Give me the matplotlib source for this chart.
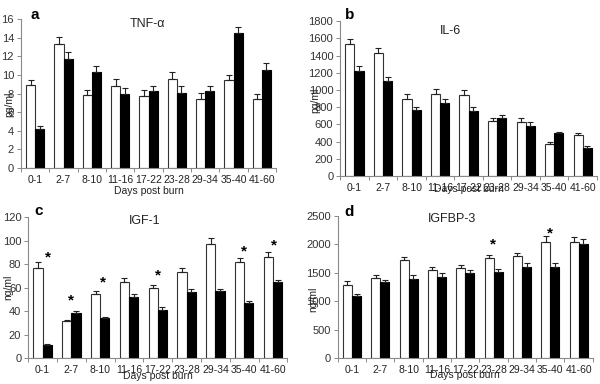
import matplotlib.pyplot as plt
import numpy as np

plt.rcParams['font.family'] = ['Liberation Sans', 'DejaVu Sans']

groups = ['0-1', '2-7', '8-10', '11-16', '17-22', '23-28', '29-34', '35-40', '41-60']

tnf_ctrl = [8.9, 13.35, 7.8, 8.85, 7.75, 9.6, 7.45, 9.45, 7.45]
tnf_ctrl_err = [0.55, 0.7, 0.6, 0.7, 0.6, 0.7, 0.6, 0.5, 0.45]
tnf_burn = [4.15, 11.75, 10.35, 7.95, 8.3, 8.1, 8.3, 14.45, 10.5]
tnf_burn_err = [0.35, 0.7, 0.65, 0.65, 0.55, 0.7, 0.5, 0.7, 0.75]

il6_ctrl = [1530, 1425, 900, 955, 940, 645, 630, 372, 476]
il6_ctrl_err = [58, 69, 58, 62, 65, 35, 39, 19, 23]
il6_burn = [1220, 1110, 765, 845, 755, 675, 577, 496, 330]
il6_burn_err = [55, 46, 39, 46, 42, 34, 46, 19, 23]

igf_ctrl = [77, 31.3, 54.3, 64.5, 59.7, 73.6, 96.7, 81.9, 86.4]
igf_ctrl_err = [4.8, 1.4, 2.6, 3.5, 2.6, 2.9, 5.3, 3.1, 4.0]
igf_burn = [11.4, 38.1, 34.4, 52, 41.2, 56.3, 56.9, 46.6, 64.3]
igf_burn_err = [0.5, 2.3, 0.9, 2.6, 2.0, 2.6, 2.0, 2.0, 2.5]

bp3_ctrl = [1276, 1405, 1721, 1540, 1587, 1762, 1797, 2049, 2043]
bp3_ctrl_err = [71, 59, 65, 53, 52, 53, 53, 100, 88]
bp3_burn = [1083, 1329, 1393, 1423, 1493, 1516, 1610, 1610, 2008]
bp3_burn_err = [47, 47, 71, 64, 53, 53, 59, 70, 88]

# significance stars: (group index, x shift, y)
igf_stars = [(0, 0.17, 86), (1, 0.0, 49), (2, 0.1, 64.5), (4, 0.0, 70), (7, -0.02, 90.5), (8, 0.05, 95.5)]
bp3_stars = [(5, -0.03, 1990), (7, -0.02, 2195)]

panels = [
    dict(rect=[0.035, 0.5625, 0.425, 0.388], letter='a', title='TNF-α', ylabel='pg/ml',
         ctrl=tnf_ctrl, ce=tnf_ctrl_err, burn=tnf_burn, be=tnf_burn_err,
         ylim=16, step=2, stars=[], title_xy=(0.494, 0.966), letter_xy=(0.055, 1.027),
         ylab_x=-0.045, ylab_y=0.43, xlab_y=-0.155),
    dict(rect=[0.567, 0.5417, 0.428, 0.403], letter='b', title='IL-6', ylabel='pg/ml',
         ctrl=il6_ctrl, ce=il6_ctrl_err, burn=il6_burn, be=il6_burn_err,
         ylim=1800, step=200, stars=[], title_xy=(0.43, 0.935), letter_xy=(0.035, 1.04),
         ylab_x=-0.097, ylab_y=0.49, xlab_y=-0.085),
    dict(rect=[0.047, 0.0677, 0.432, 0.367], letter='c', title='IGF-1', ylabel='ng/ml',
         ctrl=igf_ctrl, ce=igf_ctrl_err, burn=igf_burn, be=igf_burn_err,
         ylim=120, step=20, stars=igf_stars, title_xy=(0.45, 0.975), letter_xy=(0.039, 1.04),
         ylab_x=-0.077, ylab_y=0.5, xlab_y=-0.125),
    dict(rect=[0.563, 0.0677, 0.425, 0.37], letter='d', title='IGFBP-3', ylabel='ng/ml',
         ctrl=bp3_ctrl, ce=bp3_ctrl_err, burn=bp3_burn, be=bp3_burn_err,
         ylim=2500, step=500, stars=bp3_stars, title_xy=(0.447, 0.975), letter_xy=(0.043, 1.03),
         ylab_x=-0.098, ylab_y=0.41, xlab_y=-0.12),
]

fig = plt.figure(figsize=(6, 3.84), dpi=100)
x = np.arange(len(groups))
w = 0.32
spine_c = '#8a8a8a'

for p in panels:
    ax = fig.add_axes(p['rect'])
    ctrl = np.array(p['ctrl'])
    burn = np.array(p['burn'])
    ax.bar(x - w/2, ctrl, w, color='white', edgecolor='#333333', linewidth=0.8, zorder=2)
    ax.bar(x + w/2, burn, w, color='black', edgecolor='black', linewidth=0.8, zorder=2)
    ax.errorbar(x - w/2, ctrl, yerr=[np.zeros(len(x)), p['ce']], fmt='none',
                ecolor='#222222', elinewidth=0.8, capsize=2.3, capthick=0.8, zorder=3)
    ax.errorbar(x + w/2, burn, yerr=[np.zeros(len(x)), p['be']], fmt='none',
                ecolor='#222222', elinewidth=0.8, capsize=2.3, capthick=0.8, zorder=3)
    for gi, dx, yv in p['stars']:
        ax.text(gi + dx, yv, '*', ha='center', va='center', fontsize=11, fontweight='bold')

    ax.set_xlim(-0.5, len(groups) - 0.5)
    ax.set_ylim(0, p['ylim'])
    ax.set_yticks(np.arange(0, p['ylim'] + 1, p['step']))
    ax.set_xticks(x)
    ax.set_xticklabels(groups)
    ax.set_xticks(np.arange(-0.5, len(groups)), minor=True)
    ax.tick_params(axis='x', which='major', length=0, pad=5, labelsize=7.5, colors='#222222')
    ax.tick_params(axis='x', which='minor', length=3, width=0.7, color=spine_c, direction='out')
    ax.tick_params(axis='y', length=3, width=0.7, color=spine_c, labelsize=8,
                   labelcolor='#333333', pad=2)
    for s in ['top', 'right']:
        ax.spines[s].set_visible(False)
    for s in ['left', 'bottom']:
        ax.spines[s].set_color(spine_c)
        ax.spines[s].set_linewidth(0.8)

    ax.set_ylabel(p['ylabel'], fontsize=7.5, color='#222222')
    ax.yaxis.set_label_coords(p['ylab_x'], p['ylab_y'])
    ax.set_xlabel('Days post burn', fontsize=7.5, color='#222222')
    ax.xaxis.set_label_coords(0.5, p['xlab_y'])
    ax.xaxis.label.set_va('center')
    ax.yaxis.label.set_va('center')

    ax.text(p['title_xy'][0], p['title_xy'][1], p['title'], transform=ax.transAxes,
            ha='center', va='center', fontsize=9, color='#222222')
    ax.text(p['letter_xy'][0], p['letter_xy'][1], p['letter'], transform=ax.transAxes,
            ha='center', va='center', fontsize=11, fontweight='bold')

fig.savefig('out.png', dpi=100)
